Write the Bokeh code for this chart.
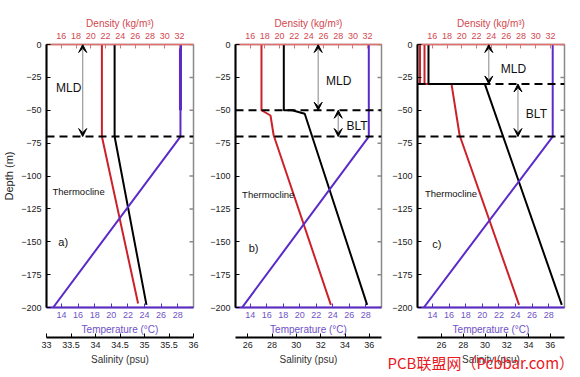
from bokeh.plotting import figure
from bokeh.models import (Range1d, LinearAxis, FixedTicker, Span, Arrow, VeeHead,
                          Label, NumeralTickFormatter, Title)
from bokeh.layouts import row
from bokeh.embed import file_html
from bokeh.resources import INLINE

FONT = "Liberation Sans"
RED = "#cc2129"
PURPLE = "#5a2bc8"
RED_TXT = "#d2474f"
PURPLE_TXT = "#6f52c6"

# ---------------- axes / ticks ----------------
depth_ticks = [-200, -175, -150, -125, -100, -75, -50, -25, 0]
dens_ticks = [16, 18, 20, 22, 24, 26, 28, 30, 32]
temp_ticks = [14, 16, 18, 20, 22, 24, 26, 28]
sal_ticks_a = [33, 33.5, 34, 34.5, 35, 35.5, 36]
sal_ticks_bc = [26, 28, 30, 32, 34, 36]
dens_range = (14.0, 33.9)
temp_range = (12.2, 29.9)
sal_range_a = (33.0, 36.0)
sal_range_b = (25.0, 37.0)
sal_range_c = (23.8, 37.3)

# ---------------- panel a ----------------
a_dens_depth = [0, -70, -197]
a_dens = [21.5, 21.5, 26.4]
a_sal_depth = [0, -70, -198]
a_sal = [34.39, 34.39, 35.04]
a_temp_depth = [0, -70, -200]
a_temp = [28.33, 28.33, 13.0]
a_temp_upper_depth = [0, -50]
a_temp_upper = [28.33, 28.33]
a_layers = [-70]          # dashed lines
a_mld = (18.9, 0, -70)    # arrow x (density units), from, to
a_blt = None

# ---------------- panel b ----------------
b_dens_depth = [0, -50, -54, -69, -198]
b_dens = [17.54, 17.54, 18.77, 19.2, 27.0]
b_sal_depth = [0, -50, -50, -52.7, -198]
b_sal = [28.97, 28.97, 29.66, 30.69, 35.82]
b_temp_depth = [0, -70, -200]
b_temp = [28.36, 28.36, 13.0]
b_layers = [-50, -70]
b_mld = (25.27, 0, -50)
b_blt = (28.0, -50, -70)

# ---------------- panel c ----------------
c_dens_depth = [0, -30, -30, -69, -198]
c_dens = [14.34, 14.34, 18.6, 19.7, 27.75]
c_dens2_depth = [0, -30]
c_dens2 = [14.95, 14.95]
c_sal_depth = [0, -30, -30, -198]
c_sal = [24.81, 24.81, 29.98, 37.05]
c_temp_depth = [0, -70, -200]
c_temp = [28.48, 28.48, 12.96]
c_layers = [-30, -70]
c_mld = (23.65, 0, -30)
c_blt = (27.6, -30, -70)

# text annotation positions (density units, depth)
a_texts = [("MLD", 17.0, -33, 12), ("Thermocline", 14.8, -112, 9.5), ("a)", 15.6, -150, 11)]
b_texts = [("MLD", 28.07, -28, 12), ("BLT", 30.58, -62, 12), ("Thermocline", 14.9, -114, 9.5), ("b)", 15.8, -155, 11)]
c_texts = [("MLD", 27.0, -19, 12), ("BLT", 30.1, -53, 12), ("Thermocline", 15.0, -113, 9.5), ("c)", 16.0, -152, 11)]
center_texts = {"MLD", "BLT"}
watermark = "PCB联盟网（Pcbbar.com）"


def style_axis(ax, color, label_color, ticks, label=None, line_width=1.5):
    ax.ticker = FixedTicker(ticks=ticks)
    ax.axis_line_color = color
    ax.axis_line_width = line_width
    ax.major_tick_line_color = color
    ax.major_tick_in = 4
    ax.major_tick_out = 0
    ax.minor_tick_line_color = None
    ax.major_label_text_font = FONT
    ax.major_label_text_font_size = "9px"
    ax.major_label_text_color = label_color
    ax.major_label_standoff = 4
    if label:
        ax.axis_label = label
        ax.axis_label_text_font = FONT
        ax.axis_label_text_font_size = "10px"
        ax.axis_label_text_font_style = "normal"
        ax.axis_label_text_color = label_color
        ax.axis_label_standoff = 3


def panel(width, left, right, sal_range, sal_ticks, dens_series, sal_series, temp_series,
          layers, mld, blt, texts, ylabel):
    p = figure(width=width, height=377, output_backend="svg", toolbar_location=None,
               x_range=Range1d(*dens_range), y_range=Range1d(-200, 0),
               x_axis_location=None, y_axis_location=None,
               min_border_left=left, min_border_right=right,
               min_border_top=44, min_border_bottom=70)
    p.extra_x_ranges = {"temp": Range1d(*temp_range), "sal": Range1d(*sal_range)}
    p.xgrid.visible = False
    p.ygrid.visible = False
    p.outline_line_color = "#8a8a8a"
    p.outline_line_width = 1.5
    p.outline_line_alpha = 1.0
    p.background_fill_color = "white"
    p.border_fill_color = "white"

    # left axis
    yl = LinearAxis()
    style_axis(yl, "black", "#222222", depth_ticks, ylabel, line_width=2)
    if ylabel:
        yl.axis_label_text_font_size = "11px"
        yl.axis_label_standoff = 3
    yl.major_label_standoff = 5
    p.add_layout(yl, "left")
    # right-hand inward ticks
    p.scatter([dens_range[1]] * len(depth_ticks), depth_ticks, marker="dash", size=8,
              line_color="#8a8a8a", line_width=1.5)
    # top density axis
    xt = LinearAxis()
    style_axis(xt, "#e07070", RED_TXT, dens_ticks, "Density (kg/m³)", line_width=1.5)
    xt.major_label_standoff = 6
    xt.axis_label_standoff = 1
    p.add_layout(xt, "above")
    # bottom temperature axis
    xb = LinearAxis(x_range_name="temp")
    style_axis(xb, PURPLE, PURPLE_TXT, temp_ticks, "Temperature (°C)", line_width=2)
    p.add_layout(xb, "below")
    # salinity axis
    xs = LinearAxis(x_range_name="sal")
    style_axis(xs, "black", "#222222", sal_ticks, "Salinity (psu)", line_width=2)
    xs.formatter = NumeralTickFormatter(format="0.[0]")
    xs.axis_label_text_color = "#333333"
    p.add_layout(xs, "below")

    for xs_, ys_ in dens_series:
        p.line(xs_, ys_, line_color=RED, line_width=2)
    for xs_, ys_ in sal_series:
        p.line(xs_, ys_, line_color="black", line_width=2, x_range_name="sal")
    for xs_, ys_, w in temp_series:
        p.line(xs_, ys_, line_color=PURPLE, line_width=w, x_range_name="temp")

    for d in layers:
        p.add_layout(Span(location=d, dimension="width", line_color="black",
                          line_width=2, line_dash="8 5"))
    for arr in (mld, blt):
        if arr is None:
            continue
        x, y0, y1 = arr
        p.add_layout(Arrow(x_start=x, y_start=y0, x_end=x, y_end=y1,
                           line_color="#9a9a9a", line_width=1.2,
                           start=VeeHead(size=8, fill_color="black", line_color="black"),
                           end=VeeHead(size=8, fill_color="black", line_color="black")))
    for t, x, y, fs in texts:
        p.add_layout(Label(x=x, y=y, text=t, text_font=FONT, text_font_size=f"{fs}px",
                           text_color="#111111",
                           text_align="center" if t in center_texts else "left",
                           text_baseline="middle"))
    return p


pa = panel(200, 46, 7, sal_range_a, sal_ticks_a,
           [(a_dens, a_dens_depth)], [(a_sal, a_sal_depth)],
           [(a_temp, a_temp_depth, 2), (a_temp_upper, a_temp_upper_depth, 3)],
           a_layers, a_mld, a_blt, a_texts, "Depth (m)")
pb = panel(186, 35, 5, sal_range_b, sal_ticks_bc,
           [(b_dens, b_dens_depth)], [(b_sal, b_sal_depth)],
           [(b_temp, b_temp_depth, 2)],
           b_layers, b_mld, b_blt, b_texts, None)
pc = panel(194, 31, 16, sal_range_c, sal_ticks_bc,
           [(c_dens, c_dens_depth), (c_dens2, c_dens2_depth)], [(c_sal, c_sal_depth)],
           [(c_temp, c_temp_depth, 2)],
           c_layers, c_mld, c_blt, c_texts, None)

# watermark under panel c
pc.add_layout(Title(text=watermark, align="left", offset=-30, standoff=-32,
                    vertical_align="top",
                    text_font="Noto Sans CJK SC", text_font_size="15px",
                    text_font_style="normal", text_color="#e8191e"), "below")

layout = row(pa, pb, pc)
open("out.html", "w").write(file_html(layout, INLINE))
